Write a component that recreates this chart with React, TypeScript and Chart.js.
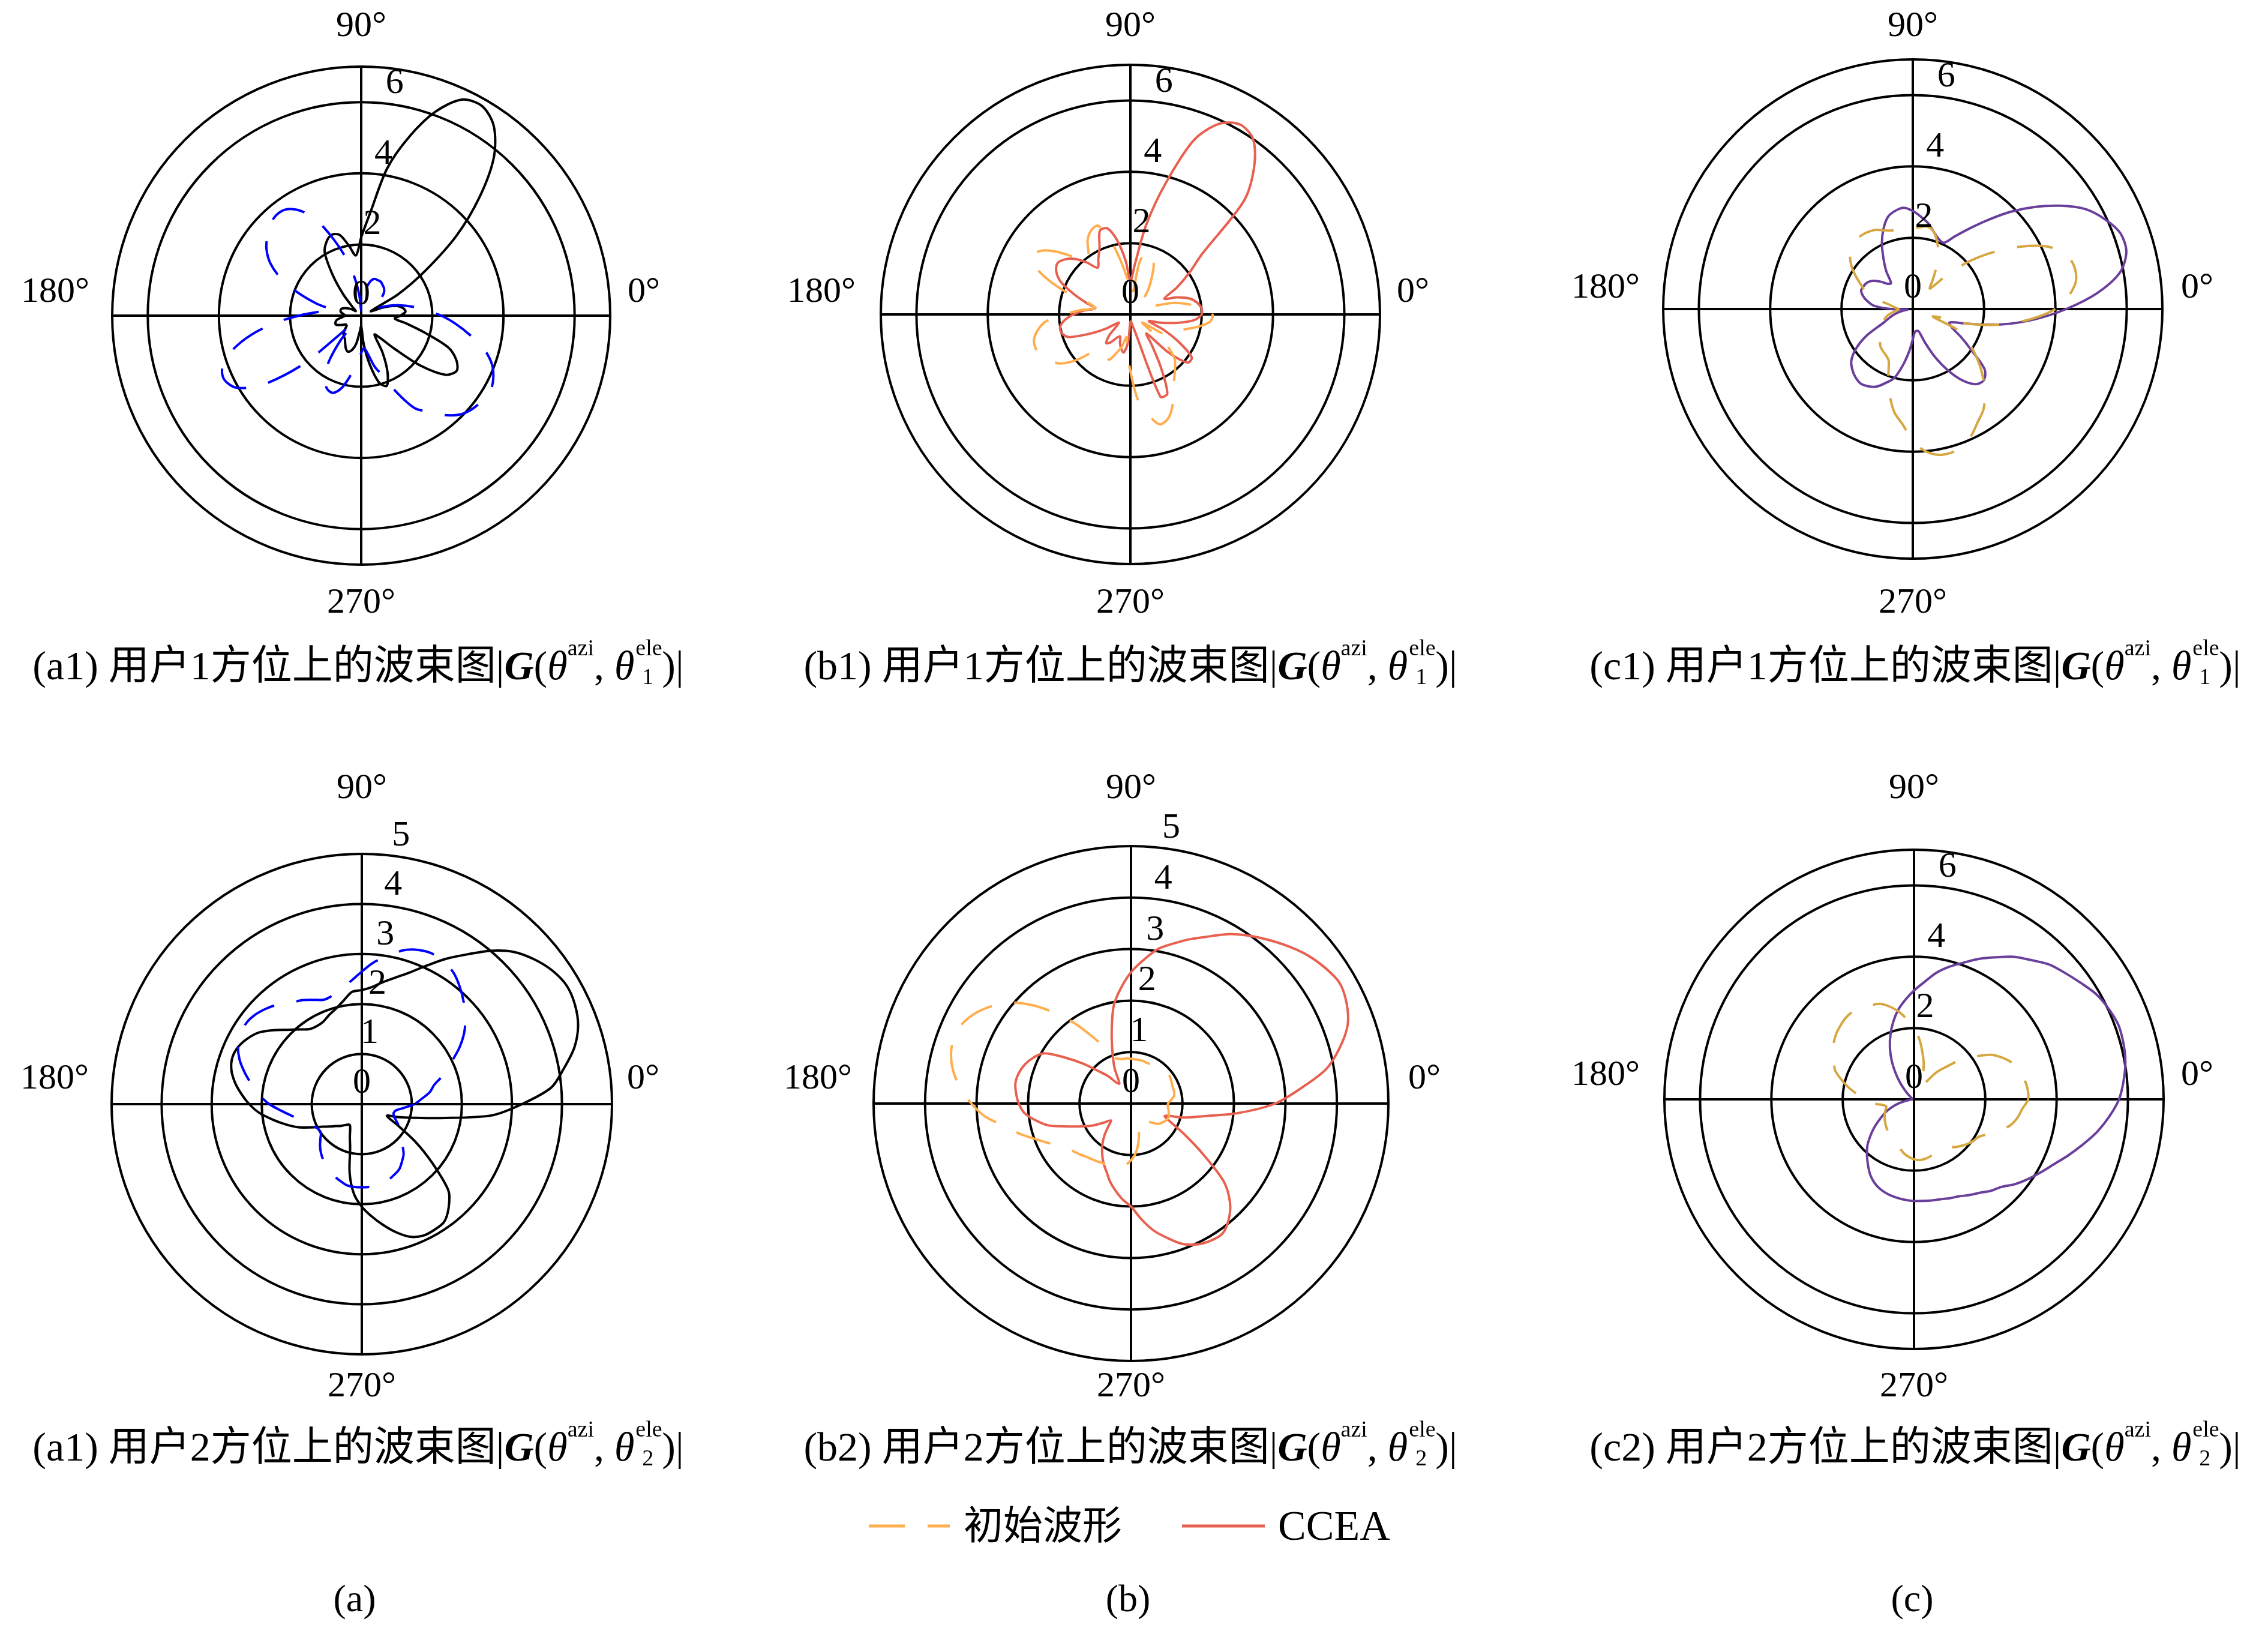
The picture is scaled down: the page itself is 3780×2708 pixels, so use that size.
import React, { useEffect, useRef } from "react";
import { Chart, registerables } from "chart.js";

Chart.register(...registerables);

// ---------- DATA ----------
// azimuth angles (degrees, counter-clockwise from 0°)
const ANGLE_DEG = [
  0, 5, 10, 15, 20, 25, 30, 35, 40, 45, 50, 55, 60, 65, 70, 75, 80, 85,
  90, 95, 100, 105, 110, 115, 120, 125, 130, 135, 140, 145, 150, 155, 160, 165, 170, 175,
  180, 185, 190, 195, 200, 205, 210, 215, 220, 225, 230, 235, 240, 245, 250, 255, 260, 265,
  270, 275, 280, 285, 290, 295, 300, 305, 310, 315, 320, 325, 330, 335, 340, 345, 350, 355,
];

// (a1) user 1
const A1_INITIAL = [
  2.25, 1.8, 1.45, 1.13, 0.8, 0.5, 0.35, 0.45, 0.7, 0.9, 1.0, 1.05, 1.1, 1.1, 1.1, 1.0, 0.75, 0.4,
  0.15, 0.55, 1.1, 1.7, 2.3, 2.95, 3.4, 3.65, 3.7, 3.62, 3.45, 3.25, 2.95, 2.5, 1.9, 1.3, 0.8, 1.2,
  1.75, 2.45, 3.15, 3.75, 4.15, 4.25, 4.05, 3.4, 2.1, 0.3, 0.9, 1.6, 2.05, 2.27, 2.31, 2.1, 1.7, 1.35,
  1.05, 0.92, 1.1, 1.5, 1.8, 2.4, 3.0, 3.3, 3.65, 3.93, 4.08, 4.16, 4.2, 4.1, 3.9, 3.56, 3.1, 2.67,
];
const A1_CCEA = [
  1.1, 1.25, 1.2, 1.05, 0.7, 0.3, 1.2, 2.2, 3.5, 4.7, 5.8, 6.5, 6.8, 6.7, 6.1, 5.2, 4.2, 2.9,
  2.2, 1.7, 2.0, 2.35, 2.42, 2.3, 2.05, 1.4, 0.8, 0.35, 0.2, 0.3, 0.4, 0.5, 0.58, 0.6, 0.58, 0.5,
  0.45, 0.55, 0.7, 0.75, 0.75, 0.62, 0.5, 0.5, 0.6, 0.7, 0.76, 0.8, 0.9, 1.02, 1.08, 1.0, 0.8, 0.45,
  0.3, 0.8, 1.4, 1.95, 2.1, 1.75, 1.2, 0.65, 0.8, 1.3, 2.2, 2.9, 3.1, 2.95, 2.6, 1.85, 1.3, 0.95,
];

// (b1) user 1
const B1_INITIAL = [
  2.3, 2.05, 1.65, 1.25, 0.7, 0.5, 0.42, 0.42, 0.45, 0.5, 0.6, 0.9, 1.2, 1.55, 1.75, 1.85, 1.5, 0.5,
  0.6, 1.0, 1.5, 2.15, 2.65, 2.6, 2.4, 2.05, 1.95, 2.3, 2.75, 3.1, 3.2, 2.8, 2.05, 1.2, 1.0, 1.4,
  1.85, 2.4, 2.65, 2.8, 2.82, 2.75, 2.6, 2.4, 2.0, 1.5, 1.35, 1.3, 1.35, 1.4, 1.15, 0.95, 0.65, 1.0,
  1.6, 2.4, 2.85, 3.19, 3.1, 2.8, 2.4, 2.15, 1.95, 1.75, 1.3, 0.4, 1.2, 1.3, 1.4, 1.6, 1.95, 2.25,
];
const B1_CCEA = [
  2.0, 2.0, 1.9, 1.72, 1.4, 1.05, 1.5, 2.0, 2.6, 4.5, 5.4, 6.0, 6.15, 5.9, 5.2, 3.8, 2.55, 1.4,
  0.95, 1.5, 2.1, 2.5, 2.5, 2.05, 1.8, 1.6, 1.9, 2.2, 2.4, 2.5, 2.4, 2.15, 1.7, 1.3, 1.0, 1.3,
  1.6, 1.85, 2.0, 2.0, 1.85, 1.3, 0.8, 0.4, 0.5, 0.85, 1.05, 0.95, 0.75, 0.68, 0.85, 1.0, 1.08, 0.8,
  0.2, 0.2, 0.3, 0.5, 2.45, 2.45, 1.7, 1.05, 0.7, 1.5, 2.1, 2.1, 1.6, 1.05, 0.55, 0.9, 1.35, 1.8,
];

// (c1) user 1
const C1_INITIAL = [
  4.0, 4.4, 4.65, 4.68, 4.55, 4.15, 3.5, 2.8, 2.1, 1.35, 0.75, 0.95, 1.3, 1.7, 2.0, 2.25, 2.35, 2.3,
  2.28, 2.27, 2.27, 2.28, 2.35, 2.45, 2.5, 2.52, 2.5, 2.45, 2.3, 2.1, 1.85, 1.6, 1.4, 1.0, 0.65, 0.5,
  0.4, 0.45, 0.6, 0.75, 0.85, 0.95, 1.0, 1.05, 1.15, 1.3, 1.4, 1.45, 1.5, 1.6, 2.0, 2.5, 2.95, 3.25,
  3.7, 4.0, 4.15, 4.17, 4.1, 3.9, 3.65, 3.45, 3.15, 2.8, 2.45, 2.1, 1.75, 1.4, 0.6, 1.6, 2.5, 3.3,
];
const C1_CCEA = [
  4.3, 5.2, 5.9, 6.2, 6.2, 5.95, 5.6, 5.05, 4.45, 3.85, 3.25, 2.75, 2.35, 2.05, 2.1, 2.25, 2.45, 2.6,
  2.75, 2.85, 2.8, 2.68, 2.4, 2.05, 1.65, 1.3, 0.95, 1.0, 1.2, 1.38, 1.48, 1.52, 1.54, 1.45, 1.3, 1.1,
  0.6, 0.15, 0.3, 0.5, 0.68, 0.9, 1.5, 1.95, 2.25, 2.4, 2.5, 2.55, 2.5, 2.4, 2.2, 2.0, 1.6, 1.2,
  0.85, 0.65, 0.62, 0.65, 1.0, 1.5, 2.0, 2.45, 2.75, 2.82, 2.63, 2.0, 1.55, 1.2, 1.1, 1.6, 2.5, 3.4,
];

// (a2) user 2
const A2_INITIAL = [
  1.05, 1.2, 1.38, 1.5, 1.75, 1.97, 2.25, 2.5, 2.7, 2.88, 3.05, 3.2, 3.28, 3.32, 3.28, 3.18, 3.0, 2.85,
  2.65, 2.47, 2.35, 2.25, 2.22, 2.3, 2.4, 2.47, 2.6, 2.7, 2.78, 2.82, 2.8, 2.73, 2.6, 2.42, 2.23, 2.05,
  1.85, 1.6, 1.4, 1.25, 1.1, 1.05, 1.0, 1.0, 1.08, 1.18, 1.27, 1.35, 1.42, 1.47, 1.55, 1.6, 1.65, 1.66,
  1.66, 1.66, 1.65, 1.64, 1.6, 1.55, 1.5, 1.4, 1.3, 1.15, 1.05, 0.95, 0.85, 0.75, 0.68, 0.66, 0.7, 0.85,
];
const A2_CCEA = [
  3.2, 3.8, 4.1, 4.4, 4.6, 4.7, 4.73, 4.65, 4.5, 4.3, 4.0, 3.65, 3.35, 3.05, 2.8, 2.62, 2.48, 2.35,
  2.28, 2.25, 2.1, 1.98, 1.9, 1.82, 1.8, 1.83, 1.95, 2.1, 2.3, 2.5, 2.63, 2.72, 2.75, 2.7, 2.58, 2.42,
  2.25, 2.05, 1.8, 1.57, 1.35, 1.1, 0.9, 0.78, 0.68, 0.62, 0.55, 0.5, 0.48, 0.55, 0.7, 0.9, 1.4, 1.8,
  2.05, 2.25, 2.45, 2.65, 2.82, 2.9, 2.9, 2.87, 2.7, 2.45, 1.85, 1.3, 0.8, 0.55, 0.75, 1.05, 1.6, 2.6,
];

// (b2) user 2
const B2_INITIAL = [
  0.72, 0.78, 0.85, 0.87, 0.87, 0.88, 0.9, 0.92, 0.93, 0.92, 0.9, 0.88, 0.86, 0.85, 0.85, 0.86, 0.86, 0.86,
  0.87, 0.88, 0.88, 0.9, 0.95, 1.2, 1.5, 1.9, 2.3, 2.7, 3.05, 3.3, 3.5, 3.63, 3.67, 3.62, 3.5, 3.32,
  3.1, 2.85, 2.5, 2.25, 2.0, 1.8, 1.62, 1.52, 1.45, 1.4, 1.35, 1.32, 1.3, 1.28, 1.27, 1.27, 1.26, 1.2,
  1.1, 0.98, 0.8, 0.6, 0.45, 0.36, 0.35, 0.36, 0.4, 0.5, 0.6, 0.68, 0.72, 0.76, 0.78, 0.76, 0.74, 0.72,
];
const B2_CCEA = [
  2.8, 3.3, 3.85, 4.2, 4.48, 4.62, 4.68, 4.6, 4.48, 4.32, 4.15, 3.98, 3.8, 3.58, 3.4, 3.22, 3.05, 2.8,
  2.55, 2.25, 1.93, 1.45, 1.05, 0.75, 0.45, 0.5, 0.7, 0.89, 1.2, 1.55, 1.95, 2.1, 2.2, 2.26, 2.28, 2.24,
  2.18, 2.08, 1.88, 1.65, 1.3, 1.05, 0.85, 0.65, 0.51, 0.62, 0.8, 0.97, 1.12, 1.27, 1.4, 1.57, 1.72, 1.87,
  2.0, 2.25, 2.5, 2.7, 2.9, 3.02, 3.08, 3.09, 2.95, 2.72, 2.35, 1.7, 1.2, 0.85, 0.7, 1.05, 1.42, 2.1,
];

// (c2) user 2
const C2_INITIAL = [
  3.2, 3.2, 3.15, 3.07, 2.95, 2.75, 2.5, 2.1, 1.75, 1.3, 1.0, 0.6, 0.4, 0.55, 0.75, 1.05, 1.35, 1.7,
  2.0, 2.25, 2.5, 2.7, 2.85, 2.9, 2.95, 3.0, 2.98, 2.92, 2.85, 2.75, 2.62, 2.48, 2.35, 2.1, 1.85, 1.6,
  1.45, 1.2, 0.9, 0.8, 0.85, 0.9, 0.95, 1.0, 1.05, 1.1, 1.15, 1.2, 1.23, 1.27, 1.35, 1.45, 1.55, 1.62,
  1.68, 1.71, 1.7, 1.67, 1.62, 1.58, 1.57, 1.62, 1.75, 1.85, 1.95, 2.03, 2.1, 2.3, 2.55, 2.8, 2.95, 3.05,
];
const C2_CCEA = [
  5.75, 5.9, 6.02, 6.08, 6.1, 6.02, 5.9, 5.7, 5.52, 5.35, 5.1, 4.88, 4.6, 4.35, 4.08, 3.85, 3.6, 3.3,
  3.05, 2.8, 2.55, 2.25, 1.93, 1.6, 1.25, 0.9, 0.6, 0.35, 0.2, 0.12, 0.08, 0.06, 0.06, 0.06, 0.06, 0.06,
  0.06, 0.08, 0.2, 0.45, 0.68, 0.9, 1.1, 1.35, 1.6, 1.85, 2.05, 2.25, 2.45, 2.6, 2.7, 2.76, 2.8, 2.83,
  2.85, 2.86, 2.88, 2.9, 2.95, 3.0, 3.1, 3.2, 3.35, 3.47, 3.7, 3.9, 4.1, 4.32, 4.6, 4.9, 5.22, 5.5,
];

const RINGS_7 = [0, 2, 4, 6, 7];
const TICKS_7 = [0, 2, 4, 6];
const RINGS_5 = [0, 1, 2, 3, 4, 5];
const TICKS_5 = [0, 1, 2, 3, 4, 5];

const LEGEND_INITIAL = "初始波形";
const LEGEND_CCEA = "CCEA";

// ---------- STYLE ----------
const SERIF = '"Liberation Serif", "Noto Sans CJK SC", serif';
const CANVAS_SERIF = '"Liberation Serif", serif';
const BLUE = "#0000FF";
const BLACK = "#000000";
const ORANGE = "#FFAD4D";
const RED = "#E8604F";
const GOLD = "#D6A740";
const PURPLE = "#6A3F9B";
const DASH = [60, 38];
const LW = 4;

type Series = { data: number[]; color: string; dashed: boolean };
type PlotCfg = {
  L: number; T: number; W: number; H: number;
  cx: number; cy: number; R: number;
  rmax: number; rings: number[]; tickLabels: number[];
  y90: number; y270: number; ySide: number; dxLeft: number; dxRight: number;
  series: Series[];
};

const PLOTS: PlotCfg[] = [
  { L: 0, T: 0, W: 1250, H: 1060, cx: 602, cy: 526, R: 415, rmax: 7, rings: RINGS_7, tickLabels: TICKS_7,
    y90: 44, y270: 1005, ySide: 487, dxLeft: -510, dxRight: 471,
    series: [{ data: A1_INITIAL, color: BLUE, dashed: true }, { data: A1_CCEA, color: BLACK, dashed: false }] },
  { L: 1250, T: 0, W: 1290, H: 1060, cx: 1884, cy: 524, R: 416, rmax: 7, rings: RINGS_7, tickLabels: TICKS_7,
    y90: 44, y270: 1005, ySide: 487, dxLeft: -515, dxRight: 471,
    series: [{ data: B1_INITIAL, color: ORANGE, dashed: true }, { data: B1_CCEA, color: RED, dashed: false }] },
  { L: 2540, T: 0, W: 1240, H: 1060, cx: 3188, cy: 515, R: 416, rmax: 7, rings: RINGS_7, tickLabels: TICKS_7,
    y90: 44, y270: 1005, ySide: 480, dxLeft: -512, dxRight: 474,
    series: [{ data: C1_INITIAL, color: GOLD, dashed: true }, { data: C1_CCEA, color: PURPLE, dashed: false }] },
  { L: 0, T: 1270, W: 1250, H: 1100, cx: 603, cy: 1840, R: 417, rmax: 5, rings: RINGS_5, tickLabels: TICKS_5,
    y90: 1314, y270: 2311, ySide: 1798, dxLeft: -512, dxRight: 469,
    series: [{ data: A2_INITIAL, color: BLUE, dashed: true }, { data: A2_CCEA, color: BLACK, dashed: false }] },
  { L: 1250, T: 1270, W: 1290, H: 1100, cx: 1885, cy: 1839, R: 429, rmax: 5, rings: RINGS_5, tickLabels: TICKS_5,
    y90: 1314, y270: 2311, ySide: 1798, dxLeft: -522, dxRight: 489,
    series: [{ data: B2_INITIAL, color: ORANGE, dashed: true }, { data: B2_CCEA, color: RED, dashed: false }] },
  { L: 2540, T: 1270, W: 1240, H: 1100, cx: 3190, cy: 1832, R: 416, rmax: 7, rings: RINGS_7, tickLabels: TICKS_7,
    y90: 1314, y270: 2311, ySide: 1792, dxLeft: -514, dxRight: 472,
    series: [{ data: C2_INITIAL, color: GOLD, dashed: true }, { data: C2_CCEA, color: PURPLE, dashed: false }] },
];

const CAPTIONS = [
  { tag: "a1", user: "1", sub: "1", x: 597, y: 1101 },
  { tag: "b1", user: "1", sub: "1", x: 1884, y: 1101 },
  { tag: "c1", user: "1", sub: "1", x: 3192, y: 1101 },
  { tag: "a1", user: "2", sub: "2", x: 597, y: 2403 },
  { tag: "b2", user: "2", sub: "2", x: 1884, y: 2403 },
  { tag: "c2", user: "2", sub: "2", x: 3192, y: 2403 },
];
const GROUP_LABELS = [
  { text: "(a)", x: 591, y: 2664 },
  { text: "(b)", x: 1880, y: 2664 },
  { text: "(c)", x: 3187, y: 2664 },
];

// radar index i goes clockwise from east; math angle = -5i
const toClockwise = <T,>(arr: T[]): T[] => arr.map((_, i) => arr[(arr.length - i) % arr.length]);

const polarTextPlugin = {
  id: "polarText",
  afterDraw(chart: any, _args: any, opts: any) {
    const s = chart.scales.r;
    const ctx = chart.ctx;
    ctx.save();
    ctx.fillStyle = "#000";
    ctx.textAlign = "center";
    ctx.textBaseline = "middle";
    ctx.font = `${opts.fontSize}px ${CANVAS_SERIF}`;
    const a = (opts.labelAngle * Math.PI) / 180;
    opts.tickLabels.forEach((v: number) => {
      const d = s.getDistanceFromCenterForValue(v);
      ctx.fillText(String(v), s.xCenter + d * Math.cos(a), s.yCenter - d * Math.sin(a) + opts.labelDy);
    });
    opts.degLabels.forEach((l: any) => ctx.fillText(l.text, s.xCenter + l.dx, s.yCenter + l.dy));
    ctx.restore();
  },
};

function PolarPlot({ cfg }: { cfg: PlotCfg }) {
  const ref = useRef<HTMLCanvasElement | null>(null);
  useEffect(() => {
    if (!ref.current) return;
    const { L, T, W, H, cx, cy, R } = cfg;
    const padding = { left: cx - R - L, right: L + W - (cx + R), top: cy - R - T, bottom: T + H - (cy + R) };
    const chart = new Chart(ref.current, {
      type: "radar",
      data: {
        labels: toClockwise(ANGLE_DEG).map((d) => `${d}°`),
        datasets: cfg.series.map((s) => ({
          data: toClockwise(s.data),
          borderColor: s.color,
          borderWidth: LW,
          borderDash: s.dashed ? DASH : [],
          borderCapStyle: "butt",
          fill: false,
          pointRadius: 0,
          pointHoverRadius: 0,
          tension: 0.3,
        })),
      },
      options: {
        responsive: false,
        maintainAspectRatio: false,
        animation: false,
        devicePixelRatio: 1,
        layout: { padding },
        events: [],
        plugins: {
          legend: { display: false },
          tooltip: { enabled: false },
          polarText: {
            fontSize: 60,
            labelAngle: 81,
            labelDy: -35,
            tickLabels: cfg.tickLabels,
            degLabels: [
              { text: "90°", dx: 0, dy: cfg.y90 - cfg.cy },
              { text: "270°", dx: 0, dy: cfg.y270 - cfg.cy },
              { text: "180°", dx: cfg.dxLeft, dy: cfg.ySide - cfg.cy },
              { text: "0°", dx: cfg.dxRight, dy: cfg.ySide - cfg.cy },
            ],
          },
        } as any,
        scales: {
          r: {
            min: 0,
            max: cfg.rmax,
            startAngle: 90,
            afterBuildTicks: (scale: any) => {
              scale.ticks = cfg.rings.map((v) => ({ value: v }));
            },
            ticks: { display: false },
            pointLabels: { display: false },
            grid: { circular: true, color: "#000", lineWidth: LW },
            angleLines: {
              display: true,
              color: "#000",
              lineWidth: (c: any) => (c.index % 18 === 0 ? LW : 0),
            },
          } as any,
        },
      },
      plugins: [polarTextPlugin as any],
    });
    return () => chart.destroy();
  }, [cfg]);
  return (
    <canvas
      ref={ref}
      width={cfg.W}
      height={cfg.H}
      style={{ position: "absolute", left: cfg.L, top: cfg.T, width: cfg.W, height: cfg.H }}
    />
  );
}

function Caption({ tag, user, sub, x, y }: { tag: string; user: string; sub: string; x: number; y: number }) {
  return (
    <div
      style={{
        position: "absolute", left: x, top: y, transform: "translate(-50%, -50%)",
        whiteSpace: "nowrap", fontFamily: SERIF, fontSize: 68, lineHeight: 1, color: "#000",
      }}
    >
      ({tag}) 用户{user}方位上的波束图|<b><i>G</i></b>(<i>θ</i>
      <span style={{ fontSize: 38, verticalAlign: 40 }}>azi</span>,{" "}
      <i>θ</i>
      <span style={{ position: "relative", display: "inline-block", width: 46, height: 0 }}>
        <span style={{ position: "absolute", left: 2, bottom: 34, fontSize: 38, lineHeight: 1 }}>ele</span>
        <span style={{ position: "absolute", left: 13, bottom: -14, fontSize: 38, lineHeight: 1 }}>{sub}</span>
      </span>
      )|
    </div>
  );
}

function Legend() {
  return (
    <div style={{ position: "absolute", left: 0, top: 0 }}>
      <svg width={3780} height={2708} style={{ position: "absolute", left: 0, top: 0 }}>
        <line x1={1448} y1={2543} x2={1583} y2={2543} stroke={ORANGE} strokeWidth={LW + 1} strokeDasharray="60 38" />
        <line x1={1970} y1={2543} x2={2108} y2={2543} stroke={RED} strokeWidth={LW + 1} />
      </svg>
      <div style={{ position: "absolute", left: 1606, top: 2543, transform: "translateY(-50%)", fontFamily: SERIF, fontSize: 66, whiteSpace: "nowrap", lineHeight: 1 }}>
        {LEGEND_INITIAL}
      </div>
      <div style={{ position: "absolute", left: 2130, top: 2543, transform: "translateY(-50%)", fontFamily: SERIF, fontSize: 70, whiteSpace: "nowrap", lineHeight: 1 }}>
        {LEGEND_CCEA}
      </div>
    </div>
  );
}

export default function App() {
  return (
    <div style={{ position: "absolute", left: 0, top: 0, width: 3780, height: 2708, background: "#fff", overflow: "hidden" }}>
      {PLOTS.map((p, i) => (
        <PolarPlot key={i} cfg={p} />
      ))}
      {CAPTIONS.map((c, i) => (
        <Caption key={i} {...c} />
      ))}
      <Legend />
      {GROUP_LABELS.map((g, i) => (
        <div
          key={i}
          style={{ position: "absolute", left: g.x, top: g.y, transform: "translate(-50%, -50%)", fontFamily: SERIF, fontSize: 64, lineHeight: 1 }}
        >
          {g.text}
        </div>
      ))}
    </div>
  );
}
